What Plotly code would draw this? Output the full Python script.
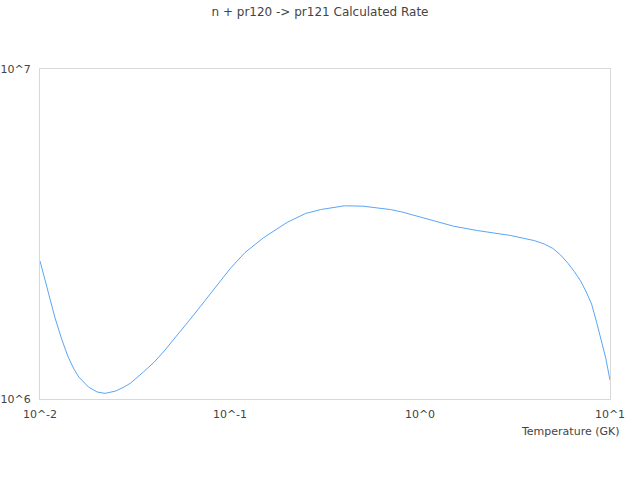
import plotly.graph_objects as go

# temperature in GK
temperature = [0.01, 0.012, 0.013, 0.014, 0.015, 0.016, 0.018, 0.02, 0.022, 0.025,
               0.028, 0.03, 0.035, 0.04, 0.045, 0.05, 0.06, 0.07, 0.08, 0.09,
               0.1, 0.12, 0.15, 0.2, 0.25, 0.3, 0.4, 0.5, 0.6, 0.7,
               0.8, 0.9, 1.0, 1.5, 2.0, 2.5, 3.0, 3.5, 4.0, 4.5,
               5.0, 5.5, 6.0, 6.5, 7.0, 7.5, 8.0, 8.5, 9.0, 9.5, 10.0]

rate = [2.62e6, 1.76e6, 1.52e6, 1.35e6, 1.24e6, 1.166e6, 1.087e6, 1.05e6, 1.04e6, 1.057e6,
        1.091e6, 1.118e6, 1.207e6, 1.295e6, 1.397e6, 1.50e6, 1.71e6, 1.91e6, 2.11e6, 2.29e6,
        2.48e6, 2.78e6, 3.08e6, 3.43e6, 3.65e6, 3.75e6, 3.85e6, 3.84e6, 3.80e6, 3.75e6,
        3.69e6, 3.62e6, 3.57e6, 3.34e6, 3.24e6, 3.18e6, 3.13e6, 3.07e6, 3.02e6, 2.95e6,
        2.86e6, 2.73e6, 2.58e6, 2.43e6, 2.28e6, 2.11e6, 1.94e6, 1.71e6, 1.51e6, 1.33e6, 1.14e6]

x_ticks = [0.01, 0.1, 1, 10]
x_tick_labels = ['10^-2', '10^-1', '10^0', '10^1']
y_ticks = [1e6, 1e7]
y_tick_labels = ['10^6', '10^7']

fig = go.Figure(go.Scatter(
    x=temperature,
    y=rate,
    mode='lines',
    line={'color': '#5aa5f7', 'width': 1},
    showlegend=False
))

frame = {
    'showline': True,
    'linecolor': '#d8d8d8',
    'linewidth': 1,
    'mirror': True,
    'showgrid': False,
    'zeroline': False,
    'ticks': '',
    'automargin': False,
}

fig.update_layout(
    width=640,
    height=480,
    margin={'l': 40, 'r': 30, 't': 69, 'b': 81},
    paper_bgcolor='white',
    plot_bgcolor='white',
    font={'family': 'DejaVu Sans', 'size': 11, 'color': '#444444'},
    title={
        'text': 'n + pr120 -> pr121 Calculated Rate',
        'font': {'size': 12, 'color': '#444444'},
        'x': 0.5,
        'xanchor': 'center',
        'y': 0.975,
        'yanchor': 'middle',
        'automargin': False
    },
    xaxis={
        'type': 'log',
        'range': [-2, 1],
        'tickvals': x_ticks,
        'ticktext': x_tick_labels,
        'ticklabelstandoff': 5,
        **frame
    },
    yaxis={
        'type': 'log',
        'range': [6, 7],
        'tickvals': y_ticks,
        'ticktext': y_tick_labels,
        'ticklabelstandoff': 6,
        **frame
    },
    annotations=[{
        'text': 'Temperature (GK)',
        'xref': 'paper',
        'yref': 'paper',
        'x': 1.021,
        'y': -0.097,
        'xanchor': 'right',
        'yanchor': 'middle',
        'showarrow': False,
        'font': {'size': 11, 'color': '#444444'}
    }]
)

# drop the browser's default body margin so the figure sits at the page corner
fig.write_html(
    'out.html',
    config={'displayModeBar': False},
    post_script="document.body.style.margin = '0px';"
)
